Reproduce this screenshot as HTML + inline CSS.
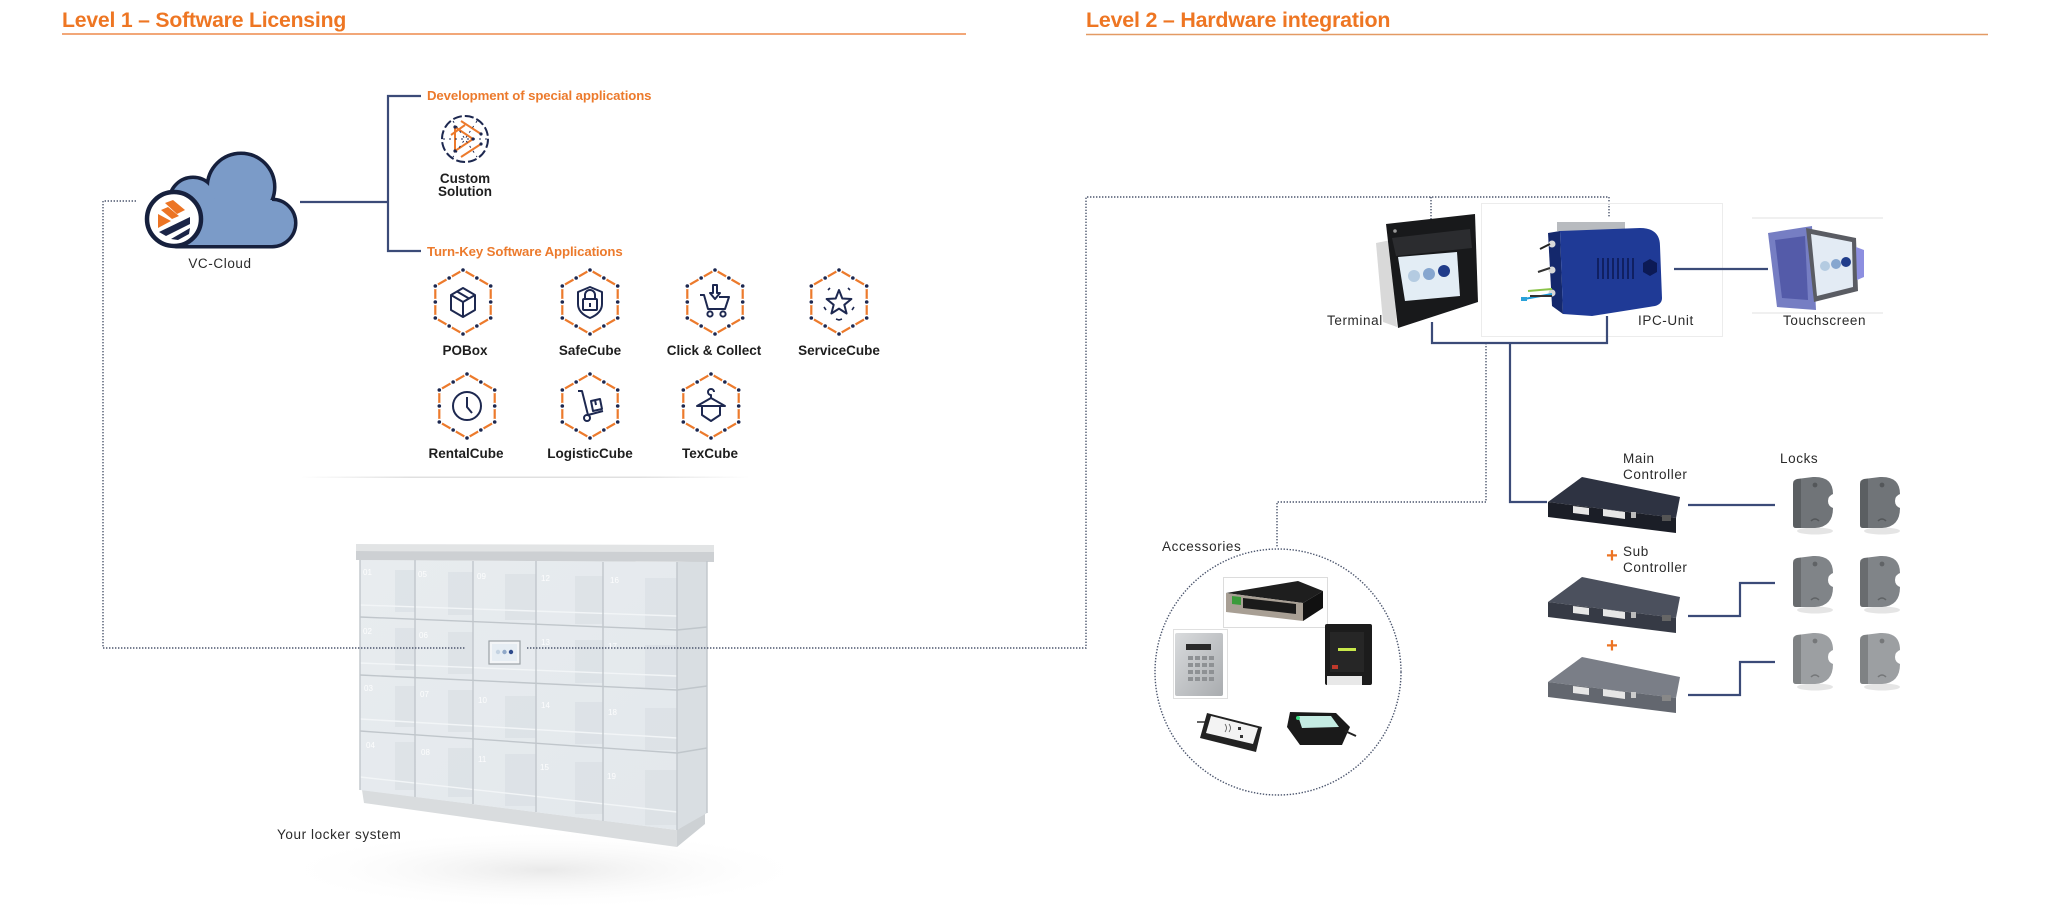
<!DOCTYPE html>
<html><head><meta charset="utf-8"><title>Software Licensing / Hardware integration</title><style>
html,body{margin:0;padding:0;background:#fff;overflow:hidden;}
svg{display:block}
text{font-family:"Liberation Sans",Arial,sans-serif;}
</style></head><body>
<svg width="2048" height="907" viewBox="0 0 2048 907" xmlns="http://www.w3.org/2000/svg">
<defs>
 <linearGradient id="sep" x1="0" x2="1" y1="0" y2="0">
  <stop offset="0" stop-color="#e0e0e0" stop-opacity="0"/>
  <stop offset=".25" stop-color="#e0e0e0"/>
  <stop offset=".75" stop-color="#e0e0e0"/>
  <stop offset="1" stop-color="#e0e0e0" stop-opacity="0"/>
 </linearGradient>
 <radialGradient id="shadow" cx=".5" cy=".5" r=".5">
  <stop offset="0" stop-color="#e4e4e4" stop-opacity=".8"/>
  <stop offset="1" stop-color="#ffffff" stop-opacity="0"/>
 </radialGradient>
 <linearGradient id="front" x1="0" x2="1" y1="0" y2="1">
  <stop offset="0" stop-color="#e8ecef"/>
  <stop offset="1" stop-color="#e3e8ec"/>
 </linearGradient>
 <linearGradient id="keypad" x1="0" x2="1" y1="0" y2="1">
  <stop offset="0" stop-color="#d9dbdd"/>
  <stop offset="1" stop-color="#a9acaf"/>
 </linearGradient>
 <g id="hx">
  <polygon points="0,-32 27.7,-16 27.7,16 0,32 -27.7,16 -27.7,-16" fill="none" stroke="#ec7a2c" stroke-width="2.2"/>
  <g fill="#fff">
   <circle cx="0" cy="-32" r="3.2"/><circle cx="27.7" cy="-16" r="3.2"/><circle cx="27.7" cy="16" r="3.2"/>
   <circle cx="0" cy="32" r="3.2"/><circle cx="-27.7" cy="16" r="3.2"/><circle cx="-27.7" cy="-16" r="3.2"/>
   <circle cx="13.85" cy="-24" r="3.2"/><circle cx="27.7" cy="0" r="3.2"/><circle cx="13.85" cy="24" r="3.2"/>
   <circle cx="-13.85" cy="24" r="3.2"/><circle cx="-27.7" cy="0" r="3.2"/><circle cx="-13.85" cy="-24" r="3.2"/>
  </g>
  <g fill="#1d2850">
   <circle cx="0" cy="-32" r="1.8"/><circle cx="27.7" cy="-16" r="1.8"/><circle cx="27.7" cy="16" r="1.8"/>
   <circle cx="0" cy="32" r="1.8"/><circle cx="-27.7" cy="16" r="1.8"/><circle cx="-27.7" cy="-16" r="1.8"/>
   <circle cx="13.85" cy="-24" r="1.8"/><circle cx="27.7" cy="0" r="1.8"/><circle cx="13.85" cy="24" r="1.8"/>
   <circle cx="-13.85" cy="24" r="1.8"/><circle cx="-27.7" cy="0" r="1.8"/><circle cx="-13.85" cy="-24" r="1.8"/>
  </g>
 </g>
 <g id="lock">
  <ellipse cx="22" cy="54" rx="18" ry="3.5" fill="#000" opacity=".10"/>
  <path d="M0,7 Q0,3 4,2 L20,0 Q40,-1 40,17 Q35,19 35,24 Q35,29 40,31 Q40,50 22,51 L3,51 Q0,51 0,48 Z"/>
  <path d="M0,7 Q0,3 4,2 L8,1.5 L8,51 L3,51 Q0,51 0,48 Z" fill="#000" opacity=".18"/>
  <circle cx="22" cy="8" r="2.4" fill="#000" opacity=".25"/>
  <path d="M18,44 Q22,40 26,44" fill="none" stroke="#000" stroke-opacity=".25" stroke-width="1.5"/>
 </g>
</defs>

<!-- Titles -->
<text x="62" y="27" font-size="21.2" font-weight="bold" fill="#ee7623" letter-spacing="-0.2">Level 1 – Software Licensing</text>
<line x1="62" y1="34" x2="966" y2="34" stroke="#ee8a4c" stroke-width="1.5"/>
<text x="1086" y="27" font-size="21.4" font-weight="bold" fill="#ee7623" letter-spacing="-0.2">Level 2 – Hardware integration</text>
<line x1="1086" y1="34.5" x2="1988" y2="34.5" stroke="#e39a64" stroke-width="1.5"/>

<!-- Level 1 tree connectors -->
<g stroke="#3b4b78" stroke-width="2.2" fill="none">
 <path d="M300,202 H388"/>
 <path d="M421,96 H388 V251 H421"/>
</g>

<!-- Cloud -->
<g stroke="#16203d" stroke-width="7" fill="#16203d" stroke-linejoin="round">
 <circle cx="272" cy="223" r="22"/>
 <circle cx="241" cy="187" r="32"/>
 <circle cx="193" cy="201" r="22"/>
 <rect x="176" y="200" width="96" height="45"/>
</g>
<g fill="#7b9bc8">
 <circle cx="272" cy="223" r="22"/>
 <circle cx="241" cy="187" r="32"/>
 <circle cx="193" cy="201" r="22"/>
 <rect x="176" y="200" width="96" height="45"/>
</g>
<circle cx="174" cy="219" r="27" fill="#fff" stroke="#16203d" stroke-width="4.5"/>
<g transform="translate(174,219)">
 <polygon points="-16,-5 -16,9 -3,2" fill="#ec7424"/>
 <polygon points="-9,-16 -1,-19 11,-9 3,-5" fill="#ec7424"/>
 <polygon points="-13,-9 -6,-12 5,-3 -2,0" fill="#ec7424"/>
 <polygon points="-15,13 16,-2 16,5 -8,17" fill="#1b2547"/>
 <polygon points="-3,20 16,9 15,15 4,21" fill="#1b2547"/>
</g>
<text x="220" y="268" font-size="13.5" fill="#2a2a2a" text-anchor="middle" letter-spacing="0.6">VC-Cloud</text>

<!-- Development of special applications -->
<text x="427" y="100" font-size="13.2" font-weight="bold" fill="#ec7a2c" letter-spacing="-0.1">Development of special applications</text>
<g transform="translate(465,139)">
 <circle r="23" fill="none" stroke="#1d2850" stroke-width="2" stroke-dasharray="9 3"/>
 <path d="M-10,-12 L8,0 L-10,12 Z" fill="none" stroke="#ec7a2c" stroke-width="2"/>
 <path d="M-4,-18 L16,-5 M-4,18 L16,5 M-14,-4 L0,-14" fill="none" stroke="#ec7a2c" stroke-width="2"/>
 <path d="M-22,0 H22 M-12,-18 L12,18 M12,-18 L-12,18" fill="none" stroke="#1d2850" stroke-width="1" stroke-dasharray="2 4"/>
 <g fill="#1d2850"><circle cx="-10" cy="-12" r="1.6"/><circle cx="8" cy="0" r="1.6"/><circle cx="-10" cy="12" r="1.6"/><circle cx="16" cy="-5" r="1.6"/><circle cx="16" cy="5" r="1.6"/></g>
</g>
<text x="465" y="183" font-size="13.5" font-weight="bold" fill="#1e1e1e" text-anchor="middle">Custom</text>
<text x="465" y="196" font-size="13.5" font-weight="bold" fill="#1e1e1e" text-anchor="middle">Solution</text>

<!-- Turn-Key -->
<text x="427" y="256" font-size="13.2" font-weight="bold" fill="#ec7a2c" letter-spacing="-0.1">Turn-Key Software Applications</text>

<!-- Icons row 1 -->
<use href="#hx" x="463" y="302"/>
<g transform="translate(463,302)" fill="none" stroke="#1d2850" stroke-width="2" stroke-linejoin="round">
 <polygon points="0,-14 12,-7 12,8 0,15 -12,8 -12,-7"/>
 <path d="M-12,-7 L0,0 L12,-7 M0,0 V15 M-6,-10.5 L6,-3.5"/>
</g>
<use href="#hx" x="590" y="302"/>
<g transform="translate(590,302)" fill="none" stroke="#1d2850" stroke-width="2" stroke-linejoin="round">
 <path d="M0,-15 L12,-10 L12,2 Q12,11 0,16 Q-12,11 -12,2 L-12,-10 Z"/>
 <path d="M-5,-3 V-7 A5,5 0 0 1 5,-7 V-3"/>
 <rect x="-7" y="-3" width="14" height="11" rx="1"/>
 <path d="M0,1 V5"/>
</g>
<use href="#hx" x="715" y="302"/>
<g transform="translate(715,302)" fill="none" stroke="#1d2850" stroke-width="2" stroke-linejoin="round">
 <path d="M-15,-7 H-11 L-7,7 H10 L14,-5 H4"/>
 <circle cx="-5" cy="12" r="2.6"/><circle cx="8" cy="12" r="2.6"/>
 <path d="M-2,-17 H2 V-9 H5 L0,-3 L-5,-9 H-2 Z"/>
</g>
<use href="#hx" x="839" y="302"/>
<g transform="translate(839,303)" fill="none" stroke="#1d2850" stroke-width="2" stroke-linejoin="round">
 <path d="M0,-13 L3.3,-4.5 L12.4,-4 L5.3,1.8 L7.6,10.5 L0,5.6 L-7.6,10.5 L-5.3,1.8 L-12.4,-4 L-3.3,-4.5 Z"/>
 <path d="M-9,-15 L-11,-13 M9,-15 L11,-13 M-15,4 L-13,7 M15,4 L13,7 M-3,16 L0,17 L3,16" stroke-width="1.6"/>
</g>
<text x="465" y="355" font-size="13.5" font-weight="bold" fill="#1e1e1e" text-anchor="middle">POBox</text>
<text x="590" y="355" font-size="13.5" font-weight="bold" fill="#1e1e1e" text-anchor="middle">SafeCube</text>
<text x="714" y="355" font-size="13.5" font-weight="bold" fill="#1e1e1e" text-anchor="middle">Click &amp; Collect</text>
<text x="839" y="355" font-size="13.5" font-weight="bold" fill="#1e1e1e" text-anchor="middle">ServiceCube</text>

<!-- Icons row 2 -->
<use href="#hx" x="467" y="406"/>
<g transform="translate(467,406)" fill="none" stroke="#1d2850" stroke-width="2" stroke-linejoin="round">
 <circle r="14"/>
 <path d="M0,-9 V1 L5,7"/>
</g>
<use href="#hx" x="590" y="406"/>
<g transform="translate(590,406)" fill="none" stroke="#1d2850" stroke-width="2" stroke-linejoin="round">
 <path d="M-12,-15 H-8 L-2,9 L13,5"/>
 <circle cx="-3" cy="12" r="3"/>
 <polygon points="1,-5 10,-7 12,3 3,5"/>
 <path d="M5,-6 L6,-1"/>
</g>
<use href="#hx" x="711" y="406"/>
<g transform="translate(711,406)" fill="none" stroke="#1d2850" stroke-width="2" stroke-linejoin="round">
 <path d="M0,-8 V-11 A3,3 0 1 1 3,-14"/>
 <path d="M0,-8 L-14,0 H14 Z"/>
 <path d="M-9,0 V9 L0,15 L9,9 V0"/>
</g>
<text x="466" y="458" font-size="13.5" font-weight="bold" fill="#1e1e1e" text-anchor="middle">RentalCube</text>
<text x="590" y="458" font-size="13.5" font-weight="bold" fill="#1e1e1e" text-anchor="middle">LogisticCube</text>
<text x="710" y="458" font-size="13.5" font-weight="bold" fill="#1e1e1e" text-anchor="middle">TexCube</text>

<rect x="300" y="476.5" width="450" height="1.5" fill="url(#sep)"/>

<!-- Locker -->
<ellipse cx="545" cy="870" rx="270" ry="40" fill="url(#shadow)"/>
<polygon points="362,790 677,830 677,847 364,803" fill="#d9dcde"/>
<polygon points="677,830 705,813 705,824 677,847" fill="#cdd1d4"/>
<polygon points="360,560 677,562 677,830 360,790" fill="url(#front)"/>
<polygon points="677,562 707,561 707,813 677,830" fill="#d9dee2"/>
<g fill="#d5dbe0" opacity=".45">
 <polygon points="395,570 415,570 415,612 395,612"/>
 <polygon points="448,572 473,572 473,615 448,615"/>
 <polygon points="505,574 536,574 536,620 505,620"/>
 <polygon points="575,576 603,576 603,624 575,624"/>
 <polygon points="645,578 677,578 677,628 645,628"/>
 <polygon points="395,628 415,628 415,670 395,670"/>
 <polygon points="448,632 473,632 473,674 448,674"/>
 <polygon points="575,640 603,640 603,683 575,683"/>
 <polygon points="645,645 677,645 677,688 645,688"/>
 <polygon points="395,686 415,686 415,727 395,727"/>
 <polygon points="448,690 473,690 473,732 448,732"/>
 <polygon points="505,696 536,696 536,738 505,738"/>
 <polygon points="575,702 603,702 603,744 575,744"/>
 <polygon points="645,708 677,708 677,750 645,750"/>
 <polygon points="395,742 415,742 415,790 395,790"/>
 <polygon points="448,748 473,748 473,797 448,797"/>
 <polygon points="505,754 536,754 536,806 505,806"/>
 <polygon points="575,762 603,762 603,814 575,814"/>
 <polygon points="645,770 677,770 677,825 645,825"/>
</g>
<g stroke="#f2f5f7" stroke-width="1.4">
 <path d="M360,605 L677,616 M360,663 L677,676 M360,719 L677,738 M360,777 L677,812"/>
</g>
<polygon points="356,544 714,545 714,552 356,551" fill="#e2e4e5"/>
<polygon points="356,551 714,552 714,562 356,560" fill="#cdd0d3"/>
<g stroke="#c0c6cb" stroke-width="1.4" fill="none">
 <path d="M360,560 V790 M415,560 V797 M473,561 V804 M536,561 V812 M603,562 V821 M677,562 V830 M707,561 V813"/>
 <path d="M360,617 L677,630 M360,675 L677,690 M360,731 L677,753"/>
 <path d="M677,630 L707,627 M677,690 L707,686 M677,753 L707,748"/>
</g>
<g font-family="Liberation Mono,monospace" font-size="8" fill="#ffffff" opacity=".9">
 <text x="363" y="575">01</text><text x="418" y="577">05</text><text x="477" y="579">09</text><text x="541" y="581">12</text><text x="610" y="583">16</text>
 <text x="363" y="634">02</text><text x="419" y="638">06</text><text x="541" y="645">13</text><text x="608" y="649">17</text>
 <text x="364" y="691">03</text><text x="420" y="697">07</text><text x="478" y="703">10</text><text x="541" y="708">14</text><text x="608" y="715">18</text>
 <text x="366" y="748">04</text><text x="421" y="755">08</text><text x="478" y="762">11</text><text x="540" y="770">15</text><text x="607" y="779">19</text>
</g>
<rect x="489" y="641" width="31" height="23" fill="#f3f5f7" stroke="#9aa0a6" stroke-width="1.2"/>
<rect x="492" y="644" width="25" height="17" fill="#e6edf3"/>
<circle cx="498" cy="652" r="2.2" fill="#c4d3e2"/><circle cx="504.5" cy="652" r="2.2" fill="#8fa8c8"/><circle cx="511" cy="652" r="2.2" fill="#2d4a8c"/>
<text x="277" y="839" font-size="13.5" fill="#2a2a2a" letter-spacing="0.6">Your locker system</text>

<!-- Dotted connectors -->
<g stroke="#4b556d" stroke-width="1.4" stroke-dasharray="1.4 1.6" fill="none">
 <path d="M136,201 H103 V648 H465"/>
 <path d="M527,648 H1086 V197 H1609 V218"/>
 <path d="M1431,197 V219"/>
 <path d="M1486,343 V502 H1277 V548"/>
 <circle cx="1278" cy="672" r="123"/>
</g>

<!-- Terminal -->
<polygon points="1376,243 1391,240 1397,327 1383,322" fill="#d9d9d9"/>
<polygon points="1386,224 1475,214 1478,302 1398,328" fill="#18191b"/>
<polygon points="1392,238 1470,229 1472,248 1396,256" fill="#2b2c2f"/>
<polygon points="1398,257 1457,252 1460,296 1405,301" fill="#e3edf5"/>
<circle cx="1414" cy="276" r="6" fill="#b4cbe1"/><circle cx="1429" cy="274" r="6" fill="#86a6cf"/><circle cx="1444" cy="271" r="6" fill="#203c8a"/>
<circle cx="1395" cy="231" r="1.8" fill="#999"/>
<text x="1327" y="325" font-size="13.5" fill="#2a2a2a" letter-spacing="0.6">Terminal</text>

<!-- IPC -->
<rect x="1481.5" y="203.5" width="241" height="133" fill="none" stroke="#ececec" stroke-width="1"/>
<rect x="1557" y="222" width="68" height="9" fill="#b8bbbf"/>
<path d="M1548,233 L1560,231 L1563,314 L1552,306 Z" fill="#14286c"/>
<path d="M1560,231 L1640,228 Q1660,228 1660,246 L1662,298 Q1662,304 1655,306 L1592,316 L1563,314 Z" fill="#1f3a96"/>
<g stroke="#0c1a55" stroke-width="1.6">
 <path d="M1598,258 V279 M1603,258 V279 M1608,258 V279 M1613,258 V279 M1618,258 V279 M1623,258 V279 M1628,258 V279 M1633,258 V279"/>
</g>
<polygon points="1650,259 1657,263 1657,272 1650,276 1643,272 1643,263" fill="#0c1a55"/>
<circle cx="1552" cy="244" r="3.5" fill="#d8d8d8"/><circle cx="1552" cy="270" r="3.5" fill="#d8d8d8"/><circle cx="1552" cy="293" r="3.5" fill="#d8d8d8"/>
<g stroke-width="2" fill="none">
 <path d="M1540,249 L1550,244" stroke="#222"/>
 <path d="M1538,272 L1550,268" stroke="#333"/>
 <path d="M1528,291 L1552,289" stroke="#8bc34a"/>
 <path d="M1524,299 L1552,294" stroke="#1e9bd7"/>
 <path d="M1530,296 L1552,296" stroke="#333"/>
</g>
<rect x="1521" y="297" width="6" height="4" fill="#2aa2d9"/>
<text x="1638" y="325" font-size="13.5" fill="#2a2a2a" letter-spacing="0.6">IPC-Unit</text>

<!-- Touchscreen -->
<line x1="1752" y1="218" x2="1883" y2="218" stroke="#e2e2e2"/>
<line x1="1752" y1="313" x2="1883" y2="313" stroke="#e2e2e2"/>
<polygon points="1768,233 1812,226 1816,310 1777,307" fill="#5e67b9" opacity=".85"/>
<polygon points="1775,240 1805,236 1808,300 1782,298" fill="#3d4597" opacity=".6"/>
<polygon points="1806,228 1856,238 1858,291 1814,302" fill="#5a5c63"/>
<polygon points="1811,234 1852,242 1853,287 1817,296" fill="#e3ebf4"/>
<circle cx="1825" cy="266" r="5" fill="#b4cbe1"/><circle cx="1836" cy="264" r="5" fill="#86a6cf"/><circle cx="1846" cy="262" r="5" fill="#203c8a"/>
<polygon points="1856,247 1864,250 1864,277 1857,280" fill="#8d8fe0"/>
<text x="1783" y="325" font-size="13.5" fill="#2a2a2a" letter-spacing="0.6">Touchscreen</text>

<!-- Level 2 solid connectors -->
<g stroke="#3b4b78" stroke-width="2.2" fill="none">
 <path d="M1432,322 V343 H1607 V316"/>
 <path d="M1510,343 V502 H1547"/>
 <path d="M1674,269 H1768"/>
 <path d="M1688,505 H1775"/>
 <path d="M1688,616 H1740 V583 H1775"/>
 <path d="M1688,695 H1740 V662 H1775"/>
</g>

<!-- Controllers -->
<text x="1623" y="463" font-size="13.5" fill="#2a2a2a" letter-spacing="0.6">Main</text>
<text x="1623" y="479" font-size="13.5" fill="#2a2a2a" letter-spacing="0.6">Controller</text>
<text x="1780" y="463" font-size="13.5" fill="#2a2a2a" letter-spacing="0.6">Locks</text>

<g>
 <polygon points="1548,502 1582,477 1680,497 1676,518" fill="#2e3342"/>
 <polygon points="1548,502 1676,518 1676,533 1548,517" fill="#1b1e27"/>
 <polygon points="1573,506 1589,508 1589,515 1573,513" fill="#e6e6e6"/>
 <polygon points="1603,509 1625,512 1625,519 1603,516" fill="#e6e6e6"/>
 <rect x="1631" y="512" width="5" height="6" fill="#bbb"/>
 <rect x="1662" y="515" width="9" height="6" fill="#555"/>
</g>
<text x="1612" y="562" font-size="20" font-weight="bold" fill="#ec7424" text-anchor="middle">+</text>
<text x="1623" y="556" font-size="13.5" fill="#2a2a2a" letter-spacing="0.6">Sub</text>
<text x="1623" y="572" font-size="13.5" fill="#2a2a2a" letter-spacing="0.6">Controller</text>
<g transform="translate(0,100)">
 <polygon points="1548,502 1582,477 1680,497 1676,518" fill="#4b505d"/>
 <polygon points="1548,502 1676,518 1676,533 1548,517" fill="#363a45"/>
 <polygon points="1573,506 1589,508 1589,515 1573,513" fill="#e6e6e6"/>
 <polygon points="1603,509 1625,512 1625,519 1603,516" fill="#e6e6e6"/>
 <rect x="1631" y="512" width="5" height="6" fill="#bbb"/>
 <rect x="1662" y="515" width="9" height="6" fill="#666"/>
</g>
<text x="1612" y="652" font-size="20" font-weight="bold" fill="#ec7424" text-anchor="middle">+</text>
<g transform="translate(0,180)">
 <polygon points="1548,502 1582,477 1680,497 1676,518" fill="#7a7e87"/>
 <polygon points="1548,502 1676,518 1676,533 1548,517" fill="#63676f"/>
 <polygon points="1573,506 1589,508 1589,515 1573,513" fill="#e6e6e6"/>
 <polygon points="1603,509 1625,512 1625,519 1603,516" fill="#e6e6e6"/>
 <rect x="1631" y="512" width="5" height="6" fill="#ccc"/>
 <rect x="1662" y="515" width="9" height="6" fill="#888"/>
</g>

<!-- Locks -->
<use href="#lock" x="1793" y="477" fill="#707478"/>
<use href="#lock" x="1860" y="477" fill="#707478"/>
<use href="#lock" x="1793" y="556" fill="#808488"/>
<use href="#lock" x="1860" y="556" fill="#808488"/>
<use href="#lock" x="1793" y="633" fill="#9c9fa2"/>
<use href="#lock" x="1860" y="633" fill="#9c9fa2"/>

<!-- Accessories -->
<text x="1162" y="551" font-size="13.5" fill="#2a2a2a" letter-spacing="0.6">Accessories</text>
<rect x="1223.5" y="577.5" width="104" height="50" fill="#fff" stroke="#dcdcdc"/>
<polygon points="1226,593 1298,581 1323,591 1303,603" fill="#1e1e1e"/>
<polygon points="1226,593 1303,603 1303,621 1226,612" fill="#a89f94"/>
<polygon points="1303,603 1323,591 1323,608 1303,621" fill="#111"/>
<polygon points="1243,598 1296,604 1296,614 1243,608" fill="#1a1a1a"/>
<polygon points="1232,596 1241,597 1241,605 1232,604" fill="#3b9b3b"/>

<rect x="1173.5" y="629.5" width="54" height="69" fill="#fff" stroke="#e0e0e0"/>
<rect x="1175" y="633" width="48" height="63" rx="2" fill="url(#keypad)"/>
<rect x="1186" y="644" width="25" height="6" fill="#2a2a2a"/>
<g fill="#8e9194">
 <rect x="1188" y="656" width="5" height="4"/><rect x="1195" y="656" width="5" height="4"/><rect x="1202" y="656" width="5" height="4"/><rect x="1209" y="656" width="5" height="4"/>
 <rect x="1188" y="663" width="5" height="4"/><rect x="1195" y="663" width="5" height="4"/><rect x="1202" y="663" width="5" height="4"/><rect x="1209" y="663" width="5" height="4"/>
 <rect x="1188" y="670" width="5" height="4"/><rect x="1195" y="670" width="5" height="4"/><rect x="1202" y="670" width="5" height="4"/><rect x="1209" y="670" width="5" height="4"/>
 <rect x="1188" y="677" width="5" height="4"/><rect x="1195" y="677" width="5" height="4"/><rect x="1202" y="677" width="5" height="4"/><rect x="1209" y="677" width="5" height="4"/>
</g>

<rect x="1325" y="624" width="47" height="61" rx="2" fill="#1c1c1c"/>
<rect x="1330" y="632" width="34" height="40" fill="#262626"/>
<rect x="1338" y="648" width="18" height="3" fill="#c8e84a"/>
<rect x="1332" y="665" width="6" height="4" fill="#c0392b"/>
<rect x="1327" y="676" width="35" height="9" fill="#e8e8e8"/>

<path d="M1197,722 H1208" stroke="#333" stroke-width="1.5"/>
<polygon points="1207,713 1262,727 1256,752 1200,738" fill="#222"/>
<polygon points="1211,716 1258,728 1253,744 1206,733" fill="#f3f3f3"/>
<path d="M1225,724 q3,4 0,8 M1229,724 q3,4 0,8" stroke="#555" stroke-width=".8" fill="none"/>
<rect x="1238" y="727" width="3" height="3" fill="#333"/><rect x="1240" y="735" width="3" height="3" fill="#333"/>

<polygon points="1290,712 1336,713 1350,727 1342,745 1300,745 1287,727" fill="#1a1a1a"/>
<polygon points="1298,716 1331,716 1339,727 1302,728" fill="#c4ebe2"/>
<circle cx="1298" cy="718" r="2" fill="#3ddc84"/>
<path d="M1345,731 L1356,736" stroke="#222" stroke-width="2"/>
</svg>
</body></html>
